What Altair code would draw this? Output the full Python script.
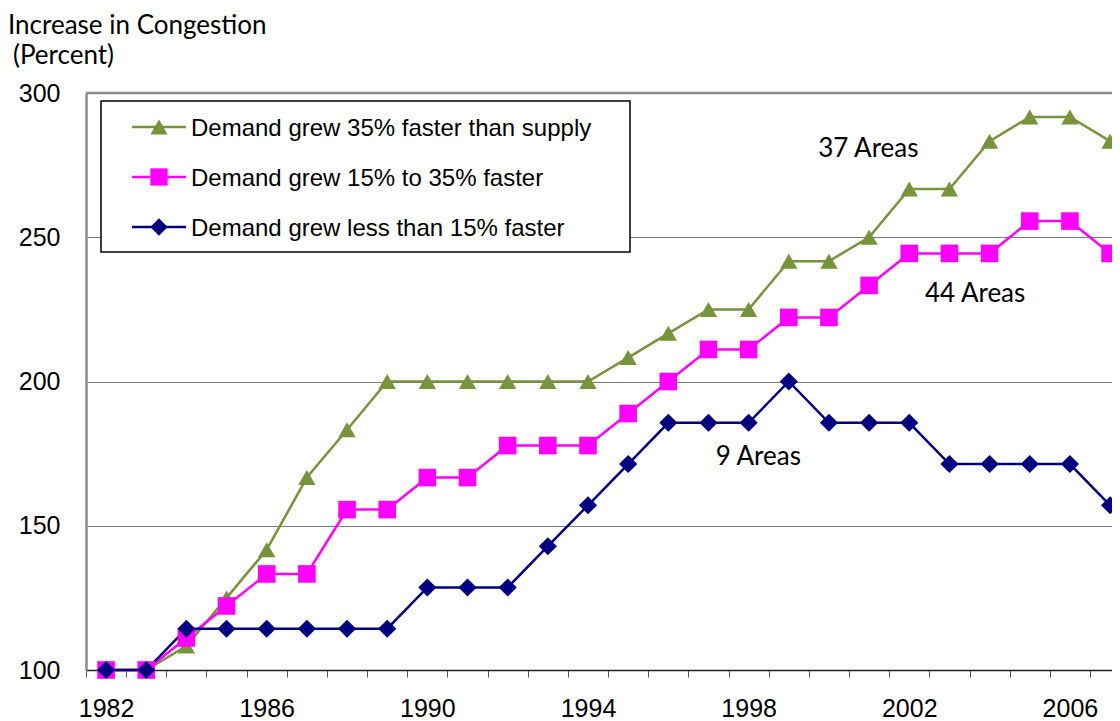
import altair as alt
import pandas as pd

# ---------------- data ----------------
years = [1982, 1983, 1984, 1985, 1986, 1987, 1988, 1989, 1990, 1991, 1992, 1993, 1994,
         1995, 1996, 1997, 1998, 1999, 2000, 2001, 2002, 2003, 2004, 2005, 2006, 2007]

demand_35_plus = [100, 100, 108.3, 125, 141.7, 166.7, 183.3, 200, 200, 200, 200, 200, 200,
                  208.3, 216.7, 225, 225, 241.7, 241.7, 250, 266.7, 266.7, 283.3, 291.7, 291.7, 283.3]
demand_15_35 = [100, 100, 111.1, 122.2, 133.3, 133.3, 155.6, 155.6, 166.7, 166.7, 177.8, 177.8, 177.8,
                188.9, 200, 211.1, 211.1, 222.2, 222.2, 233.3, 244.4, 244.4, 244.4, 255.6, 255.6, 244.4]
demand_under_15 = [100, 100, 114.3, 114.3, 114.3, 114.3, 114.3, 114.3, 128.6, 128.6, 128.6, 142.9, 157.1,
                   171.4, 185.7, 185.7, 185.7, 200, 185.7, 185.7, 185.7, 171.4, 171.4, 171.4, 171.4, 157.1]

series_names = ["Demand grew 35% faster than supply",
                "Demand grew 15% to 35% faster",
                "Demand grew less than 15% faster"]
series_colors = ["#77933C", "#FF00FF", "#000080"]
marker_shapes = ["triangle-up", "square", "diamond"]
marker_sizes = [300, 310, 330]

annotation_labels = ["37 Areas", "44 Areas", "9 Areas"]
annotation_years = [2000.98, 2003.64, 1998.24]
annotation_values = [277.7, 227.7, 171.1]

y_ticks = [100, 150, 200, 250, 300]
y_title_lines = ["Increase in Congestion", "(Percent)"]

# ---------------- layout (pixels, relative to plot area) ----------------
TITLE_X = [-78, -73]
TITLE_BASELINE_Y = [-59, -29]
LEG_BOX = dict(x=15, x2=544, y=8, y2=159)
LEG_ROW_Y = [34, 84, 134]
LEG_LINE_X = (46, 100)
LEG_MARK_X = 73
LEG_TEXT_X = 105

# ---------------- tables ----------------
rows = []
for name, vals in zip(series_names, [demand_35_plus, demand_15_35, demand_under_15]):
    for yr, v in zip(years, vals):
        rows.append({"year": yr, "value": v, "series": name})
df = pd.DataFrame(rows)

ann_df = pd.DataFrame({"year": annotation_years, "value": annotation_values, "label": annotation_labels})
top_df = pd.DataFrame({"value": [y_ticks[-1]]})
legend_df = pd.DataFrame({"series": series_names})
title_df = pd.DataFrame({"line": y_title_lines})

x_scale = alt.Scale(domain=[1981.5, 2007.048], nice=False, zero=False)
y_scale = alt.Scale(domain=[100, 300], nice=False, zero=False)

x_axis = alt.Axis(
    values=[yr - 0.5 for yr in years],
    labelExpr="(datum.value + 0.5 - 1982) % 4 == 0 ? format(datum.value + 0.5, 'd') : ''",
    labelOffset=20.08, tickSize=7, tickColor="#555555", tickWidth=1,
    labelPadding=19, labelFont="Liberation Sans", labelFontSize=25, labelColor="#000000",
    labelOverlap=False, labelFlush=False, labelBound=False,
    domainColor="#222222", domainWidth=1.5, grid=False, title=None,
)
y_axis = alt.Axis(
    values=y_ticks, grid=True, gridColor="#7a7a7a", gridWidth=1,
    ticks=False, tickSize=0, domainColor="#8c8c8c", domainWidth=2.5,
    labelPadding=26, labelFont="Liberation Sans", labelFontSize=25, labelColor="#000000",
    labelOverlap=False, labelFlush=False, title=None,
)

X = alt.X("year:Q", scale=x_scale, axis=x_axis)
Y = alt.Y("value:Q", scale=y_scale, axis=y_axis)

top_rule = alt.Chart(top_df).mark_rule(color="#8c8c8c", strokeWidth=2.5).encode(y=Y)

lines = alt.Chart(df).mark_line(strokeWidth=2.5).encode(
    x=X, y=Y,
    color=alt.Color("series:N", scale=alt.Scale(domain=series_names, range=series_colors), legend=None),
    order=alt.Order("year:Q"),
)

point_layers = []
for name, col, shp, sz in zip(series_names, series_colors, marker_shapes, marker_sizes):
    point_layers.append(
        alt.Chart(df).transform_filter(alt.datum.series == name)
        .mark_point(filled=True, shape=shp, size=sz, color=col, opacity=1)
        .encode(x=X, y=Y)
    )

annotations = alt.Chart(ann_df).mark_text(
    font="Lato", fontSize=26, align="center", baseline="alphabetic", color="#000000"
).encode(x=X, y=Y, text="label:N")

# ---------------- y-axis title (two lines, as in the original) ----------------
title_layers = []
for line, tx, ty in zip(y_title_lines, TITLE_X, TITLE_BASELINE_Y):
    title_layers.append(
        alt.Chart(title_df).transform_filter(alt.datum.line == line)
        .mark_text(font="Lato", fontSize=26, align="left", baseline="alphabetic", color="#000000")
        .encode(x=alt.value(tx), y=alt.value(ty), text="line:N")
    )

# ---------------- legend (drawn as marks) ----------------
legend_layers = [
    alt.Chart(legend_df).transform_filter(alt.datum.series == series_names[0])
    .mark_rect(fill="white", stroke="black", strokeWidth=1.5)
    .encode(x=alt.value(LEG_BOX["x"]), x2=alt.value(LEG_BOX["x2"]),
            y=alt.value(LEG_BOX["y"]), y2=alt.value(LEG_BOX["y2"]))
]
for name, col, shp, ry in zip(series_names, series_colors, marker_shapes, LEG_ROW_Y):
    base = alt.Chart(legend_df).transform_filter(alt.datum.series == name)
    legend_layers.append(
        base.mark_rule(color=col, strokeWidth=2.5)
        .encode(x=alt.value(LEG_LINE_X[0]), x2=alt.value(LEG_LINE_X[1]), y=alt.value(ry))
    )
    legend_layers.append(
        base.mark_point(filled=True, shape=shp, size=300, color=col, opacity=1)
        .encode(x=alt.value(LEG_MARK_X), y=alt.value(ry))
    )
    legend_layers.append(
        base.mark_text(font="Liberation Sans", fontSize=24, align="left", baseline="alphabetic",
                       color="#000000")
        .encode(x=alt.value(LEG_TEXT_X), y=alt.value(ry + 8.5), text="series:N")
    )

chart = alt.layer(top_rule, lines, *point_layers, annotations, *title_layers, *legend_layers).properties(
    width=1026, height=577,
    autosize=alt.AutoSizeParams(type="none"),
    padding={"left": 78, "top": 85, "right": 0, "bottom": 50},
).configure_view(stroke=None).configure(background="white")

chart.save("out.html", embed_options={"renderer": "svg", "actions": False})
